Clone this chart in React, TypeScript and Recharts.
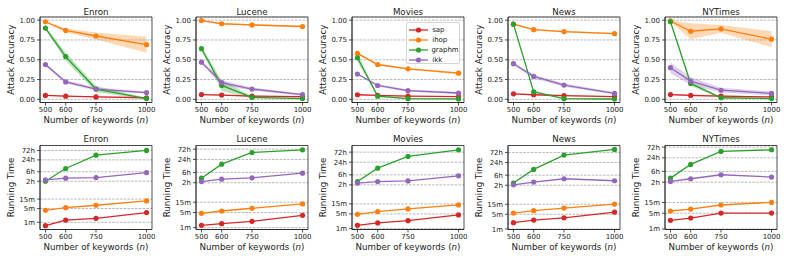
import React from 'react';
import { ComposedChart, Line, Area, XAxis, YAxis, CartesianGrid, ReferenceArea, Legend } from 'recharts';

const datasets = ['Enron', 'Lucene', 'Movies', 'News', 'NYTimes'];
const keywords = [500, 600, 750, 1000];
const methods = ['sap', 'ihop', 'graphm', 'ikk'];
const methodColors = ['#d62728', '#ff7f0e', '#2ca02c', '#9467bd'];

// Attack accuracy (mean), one row per dataset
const accSap = [
  [0.05, 0.04, 0.03, 0.02],
  [0.06, 0.054, 0.04, 0.033],
  [0.058, 0.05, 0.04, 0.035],
  [0.07, 0.058, 0.046, 0.033],
  [0.06, 0.05, 0.04, 0.03],
];
const accIhop = [
  [0.98, 0.87, 0.8, 0.69],
  [0.995, 0.955, 0.94, 0.92],
  [0.58, 0.44, 0.385, 0.33],
  [0.95, 0.88, 0.855, 0.83],
  [0.99, 0.86, 0.89, 0.76],
];
const accGraphm = [
  [0.9, 0.54, 0.13, 0.01],
  [0.64, 0.175, 0.025, 0.01],
  [0.525, 0.04, 0.008, 0.005],
  [0.95, 0.095, 0.008, 0.004],
  [0.98, 0.2, 0.02, 0.01],
];
const accIkk = [
  [0.44, 0.22, 0.13, 0.085],
  [0.47, 0.21, 0.13, 0.06],
  [0.32, 0.175, 0.11, 0.08],
  [0.45, 0.29, 0.18, 0.075],
  [0.4, 0.23, 0.115, 0.075],
];

// Half-width of the shaded spread around each accuracy mean
const spreadSap = [
  [0.006, 0.006, 0.006, 0.006],
  [0.006, 0.006, 0.006, 0.006],
  [0.006, 0.006, 0.006, 0.006],
  [0.006, 0.006, 0.006, 0.006],
  [0.01, 0.01, 0.008, 0.008],
];
const spreadIhop = [
  [0.01, 0.025, 0.045, 0.1],
  [0.005, 0.01, 0.01, 0.01],
  [0.015, 0.01, 0.01, 0.015],
  [0.01, 0.01, 0.01, 0.01],
  [0.01, 0.1, 0.05, 0.1],
];
const spreadGraphm = [
  [0.02, 0.05, 0.04, 0.01],
  [0.02, 0.07, 0.015, 0.01],
  [0.05, 0.01, 0.005, 0.005],
  [0.01, 0.02, 0.005, 0.005],
  [0.01, 0.03, 0.01, 0.005],
];
const spreadIkk = [
  [0.02, 0.02, 0.02, 0.015],
  [0.02, 0.03, 0.02, 0.015],
  [0.01, 0.015, 0.015, 0.015],
  [0.015, 0.025, 0.02, 0.015],
  [0.07, 0.05, 0.03, 0.025],
];

// Running time in minutes, one row per dataset
const timeSap = [
  [0.68, 1.3, 1.6, 3.1],
  [1.28, 1.53, 1.97, 3.7],
  [1.44, 1.86, 2.4, 4.5],
  [2.0, 2.67, 3.4, 6.4],
  [2.42, 3.07, 5.1, 5.1],
];
const timeIhop = [
  [4.06, 5.5, 7.3, 12.1],
  [4.6, 5.9, 7.9, 12.5],
  [4.8, 6.45, 8.6, 13.4],
  [5.7, 7.4, 9.9, 15.3],
  [6.3, 7.7, 11.6, 15.2],
];
const timeGraphm = [
  [120, 527, 2500, 4320],
  [195, 870, 3020, 4020],
  [173, 747, 2690, 5570],
  [152, 675, 3230, 5990],
  [182, 735, 2770, 3290],
];
const timeIkk = [
  [140, 170, 184, 330],
  [136, 175, 202, 333],
  [144, 173, 186, 322],
  [126, 169, 244, 196],
  [130, 170, 256, 202],
];

const accTicks = [0, 0.25, 0.5, 0.75, 1.0];
const timeTicks = [1, 5, 15, 120, 360, 1440, 4320];
const timeTickLabels = ['1m', '5m', '15m', '2h', '6h', '24h', '72h'];
const timeDomains = [
  [0.433, 7690],
  [0.82, 6370],
  [0.91, 8930],
  [0.95, 9230],
  [0.95, 5090],
];

const accMeans = [accSap, accIhop, accGraphm, accIkk];
const accSpreads = [spreadSap, spreadIhop, spreadGraphm, spreadIkk];
const timeMeans = [timeSap, timeIhop, timeGraphm, timeIkk];

const FONT = 'DejaVu Sans';
const TEXT = '#1a1a1a';
const SPINE = '#262626';
const plotLefts = [39.8, 196, 352.2, 508.4, 664.6];
const PLOT_W = 112;
const X_DOMAIN: [number, number] = [473, 1027];
const ACC_DOMAIN: [number, number] = [-0.04, 1.04];

function LegendBox() {
  return (
    <div
      style={{
        width: 54,
        height: 42,
        border: '1px solid #d4d4d4',
        borderRadius: 2,
        background: 'rgba(255,255,255,0.85)',
        fontFamily: FONT,
        fontSize: 7,
        color: TEXT,
        paddingTop: 1.5,
        boxSizing: 'border-box',
      }}
    >
      {methods.map((m, i) => (
        <div key={m} style={{ height: 10.2, display: 'flex', alignItems: 'center' }}>
          <svg width={23} height={8} style={{ display: 'block', marginLeft: 1.5 }}>
            <line x1={1} y1={4} x2={20} y2={4} stroke={methodColors[i]} strokeWidth={1.3} />
            <circle cx={10.5} cy={4} r={2.6} fill={methodColors[i]} />
          </svg>
          <span style={{ marginLeft: 1, lineHeight: '8px' }}>{m}</span>
        </div>
      ))}
    </div>
  );
}

function Panel({ idx, row }: { idx: number; row: number }) {
  const isAcc = row === 0;
  const chartLeft = plotLefts[idx] - 40;
  const chartTop = isAcc ? 0 : 130;
  const height = isAcc ? 130 : 133;
  const marginTop = isAcc ? 17 : 15.5;
  const plotH = isAcc ? 85.5 : 84;
  const xAxisH = 26;
  const marginBottom = height - marginTop - plotH - xAxisH;
  const titleY = isAcc ? 15 : 11.7;
  const xLabelY = isAcc ? 123 : 120.3;
  const cx = 40 + PLOT_W / 2;

  const rows = keywords.map((n, i) => {
    const r: any = { n };
    methods.forEach((m, k) => {
      if (isAcc) {
        const v = accMeans[k][idx][i];
        const s = accSpreads[k][idx][i];
        r[m] = v;
        r[m + 'Band'] = [v - s, v + s];
      } else {
        r[m] = timeMeans[k][idx][i];
      }
    });
    return r;
  });

  const yDomain: [number, number] = isAcc ? ACC_DOMAIN : (timeDomains[idx] as [number, number]);

  const renderTitles = () => (
    <g>
      <text x={cx} y={titleY} textAnchor="middle" fontFamily={FONT} fontSize={8.7} fill={TEXT}>
        {datasets[idx]}
      </text>
      <text x={cx} y={xLabelY} textAnchor="middle" fontFamily={FONT} fontSize={8.7} fill={TEXT}>
        Number of keywords (<tspan fontStyle="italic">n</tspan>)
      </text>
    </g>
  );

  const yLabelX = 14;
  const yLabelY = marginTop + plotH / 2;
  const renderYLabel = () => (
    <text
      x={yLabelX}
      y={yLabelY}
      textAnchor="middle"
      fontFamily={FONT}
      fontSize={8.7}
      fill={TEXT}
      transform={`rotate(-90, ${yLabelX}, ${yLabelY})`}
    >
      {isAcc ? 'Attack Accuracy' : 'Running Time'}
    </text>
  );

  return (
    <div style={{ position: 'absolute', left: chartLeft, top: chartTop }}>
      <ComposedChart
        width={156}
        height={height}
        data={rows}
        margin={{ top: marginTop, right: 4, bottom: marginBottom, left: 8 }}
      >
        <CartesianGrid vertical={false} stroke="#9a9a9a" strokeWidth={0.7} strokeDasharray="2.6 1.2" />
        <XAxis
          dataKey="n"
          type="number"
          domain={X_DOMAIN}
          allowDataOverflow
          ticks={keywords}
          interval={0}
          height={xAxisH}
          tickSize={3}
          tickMargin={2}
          stroke={SPINE}
          tick={{ fontSize: 7, fill: TEXT, fontFamily: FONT }}
          tickLine={{ stroke: SPINE, strokeWidth: 0.8 }}
          axisLine={{ stroke: SPINE, strokeWidth: 0.8 }}
          label={renderTitles}
        />
        <YAxis
          type="number"
          scale={isAcc ? 'linear' : 'log'}
          domain={yDomain}
          allowDataOverflow
          ticks={isAcc ? accTicks : timeTicks}
          interval={0}
          width={32}
          tickSize={3}
          tickMargin={2}
          stroke={SPINE}
          tick={{ fontSize: 7, fill: TEXT, fontFamily: FONT }}
          tickLine={{ stroke: SPINE, strokeWidth: 0.8 }}
          axisLine={{ stroke: SPINE, strokeWidth: 0.8 }}
          tickFormatter={(v: number) =>
            isAcc ? v.toFixed(2) : timeTickLabels[timeTicks.indexOf(v)] ?? ''
          }
          label={renderYLabel}
        />
        <ReferenceArea
          x1={X_DOMAIN[0]}
          x2={X_DOMAIN[1]}
          y1={yDomain[0]}
          y2={yDomain[1]}
          fill="none"
          stroke={SPINE}
          strokeWidth={0.8}
          ifOverflow="visible"
        />
        {isAcc &&
          methods.map((m, k) => (
            <Area
              key={m + 'Band'}
              dataKey={m + 'Band'}
              type="linear"
              stroke="none"
              fill={methodColors[k]}
              fillOpacity={0.3}
              isAnimationActive={false}
              activeDot={false}
              dot={false}
              legendType="none"
            />
          ))}
        {methods.map((m, k) => (
          <Line
            key={m}
            dataKey={m}
            type="linear"
            stroke={methodColors[k]}
            strokeWidth={1.3}
            dot={{ r: 2.6, fill: methodColors[k], stroke: methodColors[k], strokeWidth: 0 }}
            activeDot={false}
            isAnimationActive={false}
          />
        ))}
        {isAcc && idx === 2 && (
          <Legend
            layout="vertical"
            align="center"
            verticalAlign="middle"
            wrapperStyle={{ left: 93.5, top: 22, width: 56, height: 44 }}
            content={() => <LegendBox />}
          />
        )}
      </ComposedChart>
    </div>
  );
}

export default function App() {
  return (
    <div
      style={{
        position: 'absolute',
        left: 0,
        top: 0,
        width: 789,
        height: 263,
        background: '#fff',
        fontFamily: FONT,
      }}
    >
      {[0, 1].map((row) =>
        datasets.map((d, idx) => <Panel key={d + row} idx={idx} row={row} />)
      )}
    </div>
  );
}
